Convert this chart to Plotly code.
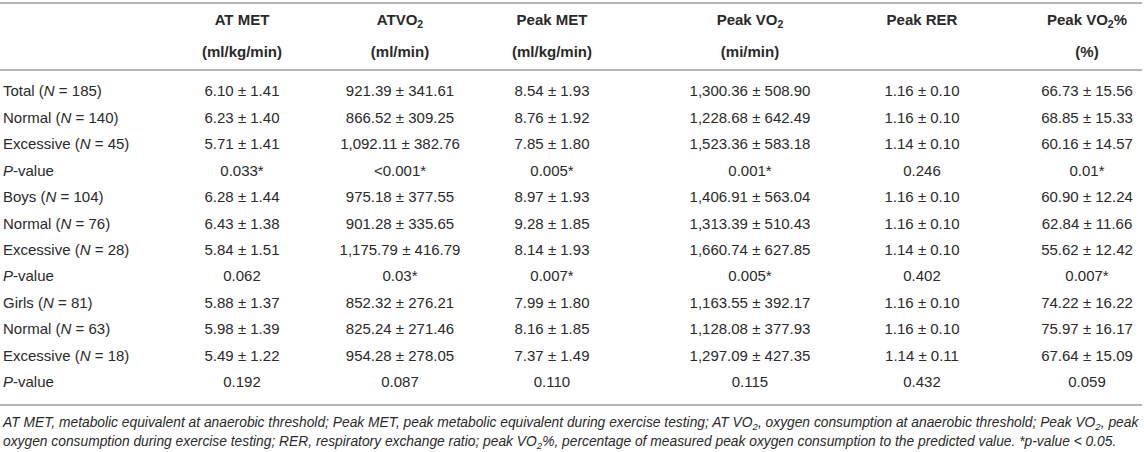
import plotly.graph_objects as go

# ---------------- data ----------------
row_labels = [
    "Total (<i>N</i> = 185)", "Normal (<i>N</i> = 140)", "Excessive (<i>N</i> = 45)", "<i>P</i>-value",
    "Boys (<i>N</i> = 104)", "Normal (<i>N</i> = 76)", "Excessive (<i>N</i> = 28)", "<i>P</i>-value",
    "Girls (<i>N</i> = 81)", "Normal (<i>N</i> = 63)", "Excessive (<i>N</i> = 18)", "<i>P</i>-value",
]
header_line1 = ["AT MET", "ATVO<sub>2</sub>", "Peak MET", "Peak VO<sub>2</sub>", "Peak RER", "Peak VO<sub>2</sub>%"]
header_line2 = ["(ml/kg/min)", "(ml/min)", "(ml/kg/min)", "(mi/min)", "", "(%)"]

at_met = ["6.10 ± 1.41", "6.23 ± 1.40", "5.71 ± 1.41", "0.033*",
          "6.28 ± 1.44", "6.43 ± 1.38", "5.84 ± 1.51", "0.062",
          "5.88 ± 1.37", "5.98 ± 1.39", "5.49 ± 1.22", "0.192"]
at_vo2 = ["921.39 ± 341.61", "866.52 ± 309.25", "1,092.11 ± 382.76", "&lt;0.001*",
          "975.18 ± 377.55", "901.28 ± 335.65", "1,175.79 ± 416.79", "0.03*",
          "852.32 ± 276.21", "825.24 ± 271.46", "954.28 ± 278.05", "0.087"]
peak_met = ["8.54 ± 1.93", "8.76 ± 1.92", "7.85 ± 1.80", "0.005*",
            "8.97 ± 1.93", "9.28 ± 1.85", "8.14 ± 1.93", "0.007*",
            "7.99 ± 1.80", "8.16 ± 1.85", "7.37 ± 1.49", "0.110"]
peak_vo2 = ["1,300.36 ± 508.90", "1,228.68 ± 642.49", "1,523.36 ± 583.18", "0.001*",
            "1,406.91 ± 563.04", "1,313.39 ± 510.43", "1,660.74 ± 627.85", "0.005*",
            "1,163.55 ± 392.17", "1,128.08 ± 377.93", "1,297.09 ± 427.35", "0.115"]
peak_rer = ["1.16 ± 0.10", "1.16 ± 0.10", "1.14 ± 0.10", "0.246",
            "1.16 ± 0.10", "1.16 ± 0.10", "1.14 ± 0.10", "0.402",
            "1.16 ± 0.10", "1.16 ± 0.10", "1.14 ± 0.11", "0.432"]
peak_vo2_pct = ["66.73 ± 15.56", "68.85 ± 15.33", "60.16 ± 14.57", "0.01*",
                "60.90 ± 12.24", "62.84 ± 11.66", "55.62 ± 12.42", "0.007*",
                "74.22 ± 16.22", "75.97 ± 16.17", "67.64 ± 15.09", "0.059"]

footnote_lines = [
    "<i>AT MET, metabolic equivalent at anaerobic threshold; Peak MET, peak metabolic equivalent during exercise testing; "
    "AT VO<sub>2</sub>, oxygen consumption at anaerobic threshold; Peak VO<sub>2</sub>, peak</i>",
    "<i>oxygen consumption during exercise testing; RER, respiratory exchange ratio; peak VO<sub>2</sub>%, "
    "percentage of measured peak oxygen consumption to the predicted value. *p-value &lt; 0.05.</i>",
]

columns = [at_met, at_vo2, peak_met, peak_vo2, peak_rer, peak_vo2_pct]

# ---------------- layout constants ----------------
W, H = 1144, 452
col_x = [242, 400, 552, 750, 922, 1087]
label_x = 3
row_y0, row_step = 92.5, 26.45
head_y1, head_y2 = 21, 53
rule_y = [3, 70, 405]
foot_y = [424, 443]
FONT = "Liberation Sans, Arial, Helvetica, sans-serif"
TXT = "#2a2a2a"
FS = 15
FS_FOOT = 13.8

row_y = [row_y0 + i * row_step for i in range(len(row_labels))]

fig = go.Figure()

def text_trace(xs, ys, texts, pos, size):
    fig.add_trace(go.Scatter(
        x=xs, y=ys, text=texts, mode="text", textposition=pos,
        textfont=dict(family=FONT, size=size, color=TXT),
        hoverinfo="skip", showlegend=False))

# row labels
text_trace([label_x] * len(row_labels), row_y, row_labels, "middle right", FS)

# data columns
for cx, vals in zip(col_x, columns):
    text_trace([cx] * len(vals), row_y, vals, "middle center", FS)

# headers
text_trace(col_x, [head_y1] * len(col_x), [f"<b>{h}</b>" for h in header_line1], "middle center", FS)
h2 = [(cx, h) for cx, h in zip(col_x, header_line2) if h]
text_trace([c for c, _ in h2], [head_y2] * len(h2), [f"<b>{h}</b>" for _, h in h2], "middle center", FS)

# footnote
text_trace([label_x] * len(footnote_lines), foot_y, footnote_lines, "middle right", FS_FOOT)

# horizontal rules
for yy in rule_y:
    fig.add_shape(type="line", xref="x", yref="y", x0=0, x1=W - 2, y0=yy, y1=yy,
                  line=dict(color="#b4b4b4", width=2))

fig.update_layout(
    width=W, height=H, margin=dict(l=0, r=0, t=0, b=0),
    paper_bgcolor="white", plot_bgcolor="white",
    xaxis=dict(range=[0, W], visible=False, fixedrange=True),
    yaxis=dict(range=[H, 0], visible=False, fixedrange=True),
)

fig.write_html("out.html", config={"displayModeBar": False},
               post_script="document.body.style.margin='0';document.body.style.overflow='hidden';")
